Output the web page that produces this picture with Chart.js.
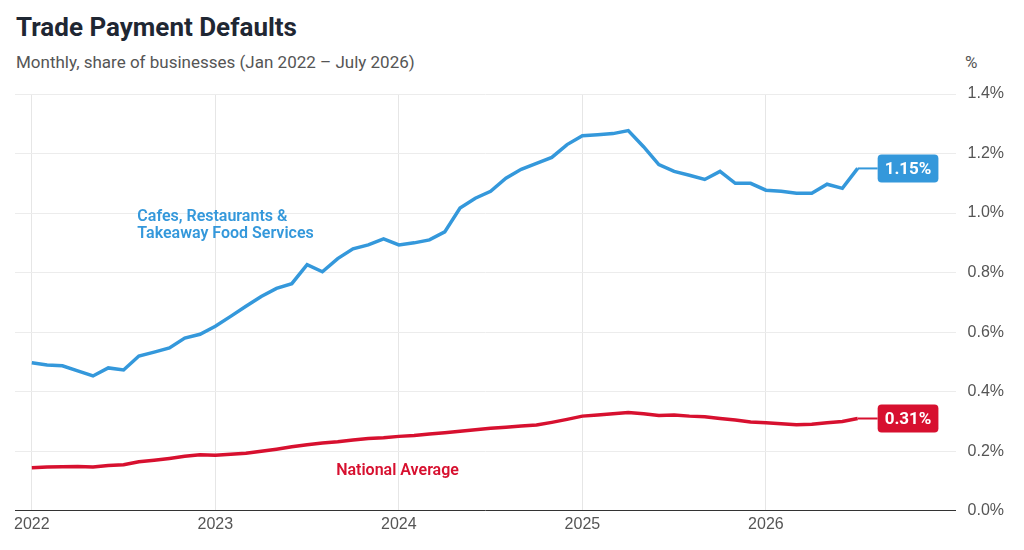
<!DOCTYPE html>
<html><head><meta charset="utf-8">
<script src="https://cdn.jsdelivr.net/npm/chart.js@4"></script>
<style>
body{margin:0;background:#fff;font-family:Roboto,"Noto Sans",sans-serif;}
#wrap{position:relative;width:1024px;height:550px;}
h1{position:absolute;left:16px;top:12px;margin:0;font-size:26px;font-weight:700;color:#1f2733;}
.sub{position:absolute;left:16px;top:52px;font-size:17px;color:#555;}
.unit{position:absolute;left:965px;top:52px;font-size:17px;color:#555;}
canvas{position:absolute;left:0;top:0;}
</style></head><body>
<div id="wrap">
<h1>Trade Payment Defaults</h1>
<div class="sub">Monthly, share of businesses (Jan 2022 – July 2026)</div>
<div class="unit">%</div>
<canvas id="c" width="1024" height="550"></canvas>
</div>
<script>
const yearLabels = ['2022','2023','2024','2025','2026'];
const cafes = [
 0.497,0.49,0.487,0.47,0.453,0.48,0.473,0.52,0.533,0.547,0.58,0.593,
 0.62,0.653,0.687,0.72,0.747,0.763,0.827,0.803,0.847,0.88,0.893,0.913,
 0.893,0.9,0.91,0.937,1.017,1.05,1.073,1.117,1.147,1.167,1.187,1.23,
 1.26,1.263,1.267,1.277,1.223,1.163,1.14,1.127,1.113,1.14,1.1,1.1,
 1.077,1.073,1.067,1.067,1.097,1.083,1.15];
const national = [
 0.145,0.147,0.148,0.149,0.147,0.152,0.155,0.165,0.17,0.176,0.183,0.188,
 0.187,0.19,0.193,0.2,0.207,0.215,0.222,0.228,0.232,0.238,0.243,0.245,
 0.25,0.253,0.258,0.262,0.267,0.272,0.277,0.281,0.285,0.288,0.297,0.307,
 0.318,0.322,0.326,0.33,0.326,0.32,0.322,0.318,0.316,0.31,0.305,0.298,
 0.296,0.292,0.289,0.291,0.296,0.3,0.31];
const BLUE = '#3498db', RED = '#d7102f';
const pts = a => a.map((v, i) => ({x: i, y: v}));

const annot = {
  id: 'annot',
  afterDatasetsDraw(chart) {
    const {ctx, scales: {x, y}} = chart;
    ctx.save();
    ctx.font = '600 16px Roboto, sans-serif';
    ctx.textBaseline = 'middle';
    ctx.fillStyle = BLUE;
    ctx.fillText('Cafes, Restaurants &', x.getPixelForValue(6.9), y.getPixelForValue(0.987));
    ctx.fillText('Takeaway Food Services', x.getPixelForValue(6.9), y.getPixelForValue(0.93));
    ctx.fillStyle = RED;
    ctx.fillText('National Average', x.getPixelForValue(19.9), y.getPixelForValue(0.133));
    [[cafes, BLUE], [national, RED]].forEach(([arr, col]) => {
      const i = arr.length - 1, v = arr[i];
      const px = x.getPixelForValue(i), py = y.getPixelForValue(v);
      ctx.strokeStyle = col; ctx.lineWidth = 2;
      ctx.beginPath(); ctx.moveTo(px, py); ctx.lineTo(px + 20, py); ctx.stroke();
      const txt = v.toFixed(2) + '%';
      ctx.font = '700 17px Roboto, sans-serif';
      const w = ctx.measureText(txt).width + 14;
      ctx.fillStyle = col;
      ctx.beginPath(); ctx.roundRect(px + 20, py - 14, w, 28, 4); ctx.fill();
      ctx.fillStyle = '#fff'; ctx.textAlign = 'left';
      ctx.fillText(txt, px + 27, py + 1);
    });
    ctx.restore();
  }
};

new Chart(document.getElementById('c'), {
  type: 'line',
  data: {datasets: [
    {data: pts(cafes), borderColor: BLUE, borderWidth: 3.5, pointRadius: 0, tension: 0},
    {data: pts(national), borderColor: RED, borderWidth: 3.5, pointRadius: 0, tension: 0}
  ]},
  options: {
    responsive: false, animation: false,
    layout: {padding: {top: 94, left: 15, right: 8, bottom: 12}},
    plugins: {legend: {display: false}, tooltip: {enabled: false}},
    scales: {
      x: {
        type: 'linear', min: -1.1, max: 60.4,
        afterBuildTicks: s => { s.ticks = yearLabels.map((_, i) => ({value: i * 12})); },
        ticks: {callback: v => yearLabels[v / 12], color: '#555', font: {size: 16}, maxRotation: 0, padding: 4},
        grid: {color: '#e6e6e6', drawTicks: false},
        border: {display: true, color: '#333'}
      },
      y: {
        position: 'right', min: 0, max: 1.4,
        ticks: {stepSize: 0.2, callback: v => v.toFixed(1) + '%', color: '#555', font: {size: 16}, padding: 12},
        grid: {color: '#ececec', drawTicks: false},
        border: {display: false}
      }
    }
  },
  plugins: [annot]
});
</script>
</body></html>
